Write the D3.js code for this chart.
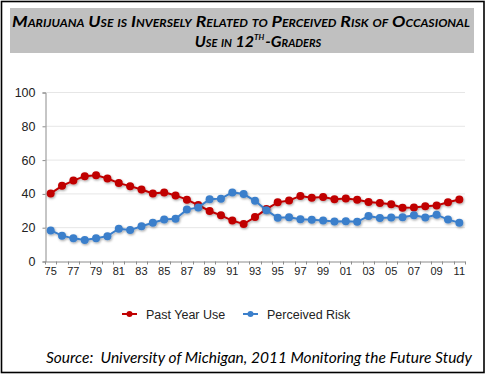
<!DOCTYPE html>
<html>
<head>
<meta charset="utf-8">
<script src="https://cdn.jsdelivr.net/npm/d3@7"></script>
<style>
  body { margin: 0; background: #fff; }
  svg { display: block; }
</style>
</head>
<body>
<div id="chart"></div>
<script>
// data
var years = ['75','76','77','78','79','80','81','82','83','84','85','86','87','88','89','90','91','92','93',
             '94','95','96','97','98','99','00','01','02','03','04','05','06','07','08','09','10','11'];

var pastYearUse = [40.0, 44.5, 47.6, 50.2, 50.8, 48.8, 46.1, 44.3, 42.3, 40.0, 40.6, 38.8, 36.3, 33.1, 29.6,
                   27.0, 23.9, 21.9, 26.0, 30.7, 34.7, 35.8, 38.5, 37.5, 37.8, 36.5, 37.0, 36.2, 34.9, 34.3,
                   33.6, 31.5, 31.7, 32.4, 32.8, 34.8, 36.4];

var perceivedRisk = [18.1, 15.0, 13.4, 12.4, 13.5, 14.7, 19.1, 18.3, 20.6, 22.6, 24.5, 25.0, 30.4, 31.7, 36.5,
                     36.9, 40.6, 39.6, 35.6, 30.1, 25.6, 25.9, 24.7, 24.4, 23.9, 23.4, 23.5, 23.2, 26.6, 25.4,
                     25.8, 25.9, 27.1, 25.8, 27.4, 24.5, 22.7];

var yTicks = [0, 20, 40, 60, 80, 100];
var xLabels = years.filter(function (d, i) { return i % 2 === 0; });

var seriesNames = ['Past Year Use', 'Perceived Risk'];
var seriesColors = ['#c00000', '#3b7fcb'];

// config
var width  = 486
  , height = 375
  , plot   = { left: 45, right: 465, top: 92, bottom: 261 }
;

var svg = d3.select('#chart').append('svg')
    .attr('width', width)
    .attr('height', height);

var defs = svg.append('defs');
var shadow = defs.append('filter').attr('id', 'shadow')
    .attr('x', '-50%').attr('y', '-50%').attr('width', '200%').attr('height', '200%');
shadow.append('feDropShadow')
    .attr('dx', 0.8).attr('dy', 1.2).attr('stdDeviation', 0.9)
    .attr('flood-color', '#000').attr('flood-opacity', 0.35);

// frame
svg.append('rect')
    .attr('x', 1.5).attr('y', 1.5)
    .attr('width', 482.5).attr('height', 371)
    .attr('fill', '#fff').attr('stroke', '#000').attr('stroke-width', 1.6);

// title
svg.append('rect')
    .attr('x', 10).attr('y', 8)
    .attr('width', 464).attr('height', 45)
    .attr('fill', '#c0c0c0');

var titleFont = 'Lato, "Open Sans", sans-serif';

function titleText(sel, size) {
  return sel
    .style('font-family', titleFont).style('font-size', size + 'px')
    .style('font-weight', 'bold').style('font-style', 'italic')
    .style('font-variant', 'small-caps')
    .attr('fill', '#000');
}

titleText(svg.append('text'), 16)
    .attr('x', 12).attr('y', 27)
    .attr('textLength', 458).attr('lengthAdjust', 'spacingAndGlyphs')
    .text('Marijuana Use is Inversely Related to Perceived Risk of Occasional');

// second title line in pieces (superscript "th")
var parts = [
  { text: 'Use in 12', size: 16, dy: 0 },
  { text: 'TH', size: 8, dy: -7 },
  { text: '-Graders', size: 16, dy: 0 }
];
var pieces = parts.map(function (p) {
  return titleText(svg.append('text'), p.size).attr('y', 47 + p.dy).text(p.text);
});
var widths = pieces.map(function (s) { return s.node().getComputedTextLength(); });
var total = d3.sum(widths) + 1;
var px = 258 - total / 2;
pieces.forEach(function (s, i) {
  s.attr('x', px);
  px += widths[i] + (i === 1 ? 1 : 0);
});

// scales
var x = d3.scaleBand()
    .domain(years)
    .range([plot.left, plot.right]);

var y = d3.scaleLinear()
    .domain([0, 100])
    .range([plot.bottom, plot.top]);

// grid
svg.append('g').selectAll('line')
    .data(yTicks.filter(function (d) { return d > 0; }))
    .enter().append('line')
    .attr('x1', plot.left).attr('x2', plot.right)
    .attr('y1', function (d) { return y(d) + 0.5; })
    .attr('y2', function (d) { return y(d) + 0.5; })
    .attr('stroke', '#e6e6e6').attr('stroke-width', 1);

// y axis
var yAxis = svg.append('g')
    .attr('transform', 'translate(' + (plot.left + 0.5) + ',0.5)')
    .call(d3.axisLeft(y).tickValues(yTicks).tickSize(3).tickPadding(7));

// x axis: labels every other year, ticks on category boundaries
var xAxis = svg.append('g')
    .attr('transform', 'translate(0,' + (plot.bottom + 0.5) + ')')
    .call(d3.axisBottom(x)
      .tickValues(xLabels)
      .tickSize(0)
      .tickPadding(6));

xAxis.append('g').selectAll('line')
    .data(years.concat(['end']))
    .enter().append('line')
    .attr('x1', function (d, i) { return Math.round(plot.left + i * x.step()) + 0.5; })
    .attr('x2', function (d, i) { return Math.round(plot.left + i * x.step()) + 0.5; })
    .attr('y1', 0).attr('y2', 3)
    .attr('stroke', '#8c8c8c');

[yAxis, xAxis].forEach(function (g) {
  g.select('.domain').attr('stroke', '#8c8c8c');
  g.selectAll('.tick line').attr('stroke', '#8c8c8c');
  g.selectAll('.tick text')
    .attr('fill', '#222')
    .style('font-family', '"Liberation Sans", Arial, sans-serif');
});
yAxis.selectAll('.tick text').style('font-size', '12.5px');
xAxis.selectAll('.tick text').style('font-size', '11px');

// series
var series = [pastYearUse, perceivedRisk];
var cx = function (d, i) { return x(years[i]) + x.bandwidth() / 2; };

var line = d3.line()
    .x(cx)
    .y(function (d) { return y(d); });

series.forEach(function (values, s) {
  var g = svg.append('g').attr('filter', 'url(#shadow)');
  g.append('path')
      .datum(values)
      .attr('d', line)
      .attr('fill', 'none')
      .attr('stroke', seriesColors[s])
      .attr('stroke-width', 2);
  g.selectAll('circle')
      .data(values)
      .enter().append('circle')
      .attr('cx', cx)
      .attr('cy', function (d) { return y(d); })
      .attr('r', 4)
      .attr('fill', seriesColors[s]);
});

// legend
var legendX = [122, 243];
var legend = svg.append('g').selectAll('g')
    .data(seriesNames)
    .enter().append('g')
    .attr('transform', function (d, i) { return 'translate(' + legendX[i] + ',314)'; });

legend.append('line')
    .attr('x1', 0).attr('x2', 15)
    .attr('stroke', function (d, i) { return seriesColors[i]; })
    .attr('stroke-width', 2);
legend.append('circle')
    .attr('cx', 7.5).attr('r', 3)
    .attr('fill', function (d, i) { return seriesColors[i]; });
legend.append('text')
    .attr('x', 24).attr('y', 4.5)
    .style('font-family', '"Liberation Sans", Arial, sans-serif')
    .style('font-size', '12.5px')
    .attr('fill', '#222')
    .text(function (d) { return d; });

// source
svg.append('text')
    .attr('x', 46).attr('y', 363)
    .attr('textLength', 426).attr('lengthAdjust', 'spacingAndGlyphs')
    .style('font-family', 'Lato, "Open Sans", sans-serif')
    .style('font-style', 'italic')
    .style('font-size', '15px')
    .attr('fill', '#000')
    .attr('xml:space', 'preserve')
    .text('Source:  University of Michigan, 2011 Monitoring the Future Study');
</script>
</body>
</html>
